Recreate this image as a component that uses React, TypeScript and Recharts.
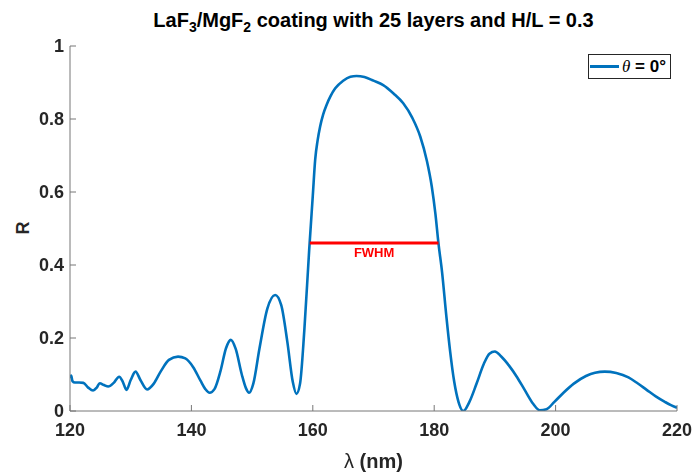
import React from "react";
import {
  LineChart,
  Line,
  XAxis,
  YAxis,
  ReferenceLine,
  Legend,
} from "recharts";

// wavelength samples (nm) and reflectance
const lambda = [
  120.0, 120.2, 120.4, 120.8, 121.5, 122.2, 123.0, 123.8, 124.4, 124.9,
  125.6, 126.3, 127.2, 128.1, 128.7, 129.3, 130.0, 130.8, 131.6, 132.7,
  133.8, 135.0, 136.3, 137.8, 139.0, 140.3, 141.5, 142.3, 143.0, 143.8,
  144.8, 145.7, 146.5, 147.3, 148.3, 149.0, 149.5, 150.2, 151.2, 152.5,
  153.8, 154.8, 155.8, 156.7, 157.3, 157.9, 158.6, 159.4, 160.0, 160.4,
  160.8, 161.2, 161.7, 162.3, 162.9, 163.7, 165.0, 166.2, 167.2, 168.5,
  170.0, 171.6, 173.3, 174.9, 176.4, 177.7, 178.8, 179.6, 180.2, 180.7,
  181.3, 182.0, 182.6, 183.3, 184.0, 184.8, 185.8, 187.0, 188.2, 189.1,
  190.0, 191.0, 192.3, 193.6, 195.0, 196.3, 197.4, 198.5, 199.8, 201.3,
  203.0, 205.0, 206.5, 208.1, 210.0, 212.0, 213.5, 215.0, 216.5, 218.0,
  219.0, 220.0,
];

const reflectance = [
  0.090, 0.097, 0.082, 0.078, 0.078, 0.077, 0.064, 0.056, 0.064, 0.076,
  0.071, 0.067, 0.077, 0.094, 0.080, 0.058, 0.085, 0.108, 0.085, 0.059,
  0.075, 0.110, 0.140, 0.149, 0.144, 0.120, 0.083, 0.060, 0.050, 0.060,
  0.110, 0.172, 0.195, 0.170, 0.100, 0.062, 0.050, 0.075, 0.170, 0.280,
  0.318, 0.290, 0.190, 0.080, 0.047, 0.075, 0.220, 0.440, 0.590, 0.690,
  0.742, 0.779, 0.812, 0.840, 0.862, 0.884, 0.905, 0.916, 0.918, 0.915,
  0.905, 0.893, 0.870, 0.843, 0.803, 0.752, 0.685, 0.615, 0.540, 0.460,
  0.380, 0.260, 0.167, 0.080, 0.025, 0.000, 0.025, 0.076, 0.130, 0.157,
  0.163, 0.150, 0.125, 0.094, 0.055, 0.020, 0.002, 0.005, 0.025, 0.050,
  0.075, 0.096, 0.105, 0.108, 0.104, 0.092, 0.076, 0.058, 0.040, 0.025,
  0.016, 0.009,
];

const xTicks = [120, 140, 160, 180, 200, 220];
const yTicks = [0, 0.2, 0.4, 0.6, 0.8, 1];

// FWHM marker
const fwhmLeft = 159.5;
const fwhmRight = 180.7;
const fwhmLevel = 0.46;

const data = lambda.map((l, i) => ({ lambda: l, R: reflectance[i] }));

const FONT = "'Liberation Sans', Arial, Helvetica, sans-serif";
const BLUE = "#0072BD";
const AXIS = "#777777";
const TEXT = "#262626";

const tickStyle = { fontSize: 18, fontWeight: "bold", fill: TEXT, fontFamily: FONT };

const LegendBox = ({ payload }: any) => (
  <div
    style={{
      border: `1px solid ${TEXT}`,
      background: "#fff",
      width: 83,
      height: 25,
      boxSizing: "border-box",
      display: "flex",
      alignItems: "center",
      fontFamily: FONT,
    }}
  >
    {(payload || []).map((p: any) => (
      <React.Fragment key={p.value}>
        <span
          style={{
            display: "inline-block",
            width: 29,
            height: 3,
            background: p.color,
            marginLeft: 1,
            marginRight: 3,
          }}
        />
        <span style={{ fontSize: 17, fontWeight: "bold", color: "#000", whiteSpace: "nowrap" }}>
          <i style={{ fontFamily: "'Liberation Serif', serif", fontWeight: "normal" }}>θ</i> = 0°
        </span>
      </React.Fragment>
    ))}
  </div>
);

export default function App() {
  return (
    <div
      style={{
        position: "fixed",
        left: 0,
        top: 0,
        width: 693,
        height: 474,
        background: "#fff",
        fontFamily: FONT,
      }}
    >
      <div
        style={{
          position: "absolute",
          left: 0,
          width: 747,
          top: 8,
          textAlign: "center",
          fontSize: 20,
          fontWeight: "bold",
          color: "#000",
          lineHeight: "24px",
        }}
      >
        LaF<sub style={{ fontSize: 14 }}>3</sub>/MgF<sub style={{ fontSize: 14 }}>2</sub> coating with 25 layers and H/L = 0.3
      </div>
      <div
        style={{
          position: "absolute",
          left: 13,
          top: 217,
          width: 20,
          height: 22,
          textAlign: "center",
          fontSize: 18,
          fontWeight: "bold",
          color: TEXT,
          transform: "rotate(-90deg)",
          lineHeight: "22px",
        }}
      >
        R
      </div>
      <div
        style={{
          position: "absolute",
          left: 0,
          width: 747,
          top: 449,
          textAlign: "center",
          fontSize: 20,
          fontWeight: "bold",
          color: TEXT,
          lineHeight: "24px",
        }}
      >
        <span style={{ fontWeight: "normal" }}>λ</span> (nm)
      </div>
      <LineChart
        width={693}
        height={474}
        data={data}
        margin={{ top: 46, right: 16, bottom: 33, left: 10 }}
        style={{ position: "absolute", left: 0, top: 0 }}
      >
        <XAxis
          dataKey="lambda"
          type="number"
          domain={[120, 220]}
          ticks={xTicks}
          allowDataOverflow
          height={30}
          tickSize={-6}
          tickMargin={18}
          tick={tickStyle}
          stroke={AXIS}
          tickLine={{ stroke: AXIS }}
          axisLine={{ stroke: AXIS }}
        />
        <XAxis
          xAxisId="top"
          orientation="top"
          dataKey="lambda"
          type="number"
          domain={[120, 220]}
          ticks={xTicks}
          allowDataOverflow
          height={0}
          tickSize={-6}
          tick={false}
          stroke={AXIS}
        />
        <YAxis
          type="number"
          domain={[0, 1]}
          ticks={yTicks}
          allowDataOverflow
          width={60}
          tickSize={-6}
          tickMargin={12}
          tick={tickStyle}
          tickFormatter={(v: number) => String(v)}
          stroke={AXIS}
        />
        <YAxis
          yAxisId="right"
          orientation="right"
          type="number"
          domain={[0, 1]}
          ticks={yTicks}
          allowDataOverflow
          width={0}
          tickSize={-6}
          tick={false}
          stroke={AXIS}
        />
        <Line
          dataKey="R"
          name="theta"
          type="monotone"
          stroke={BLUE}
          strokeWidth={2.6}
          dot={false}
          isAnimationActive={false}
        />
        <ReferenceLine
          segment={[
            { x: fwhmLeft, y: fwhmLevel },
            { x: fwhmRight, y: fwhmLevel },
          ]}
          stroke="#FF0000"
          strokeWidth={3}
          ifOverflow="visible"
          label={{
            value: "FWHM",
            position: "bottom",
            offset: 5,
            fill: "#FF0000",
            fontSize: 13,
            fontWeight: "bold",
            fontFamily: FONT,
          }}
        />
        <Legend
          layout="vertical"
          align="center"
          verticalAlign="middle"
          content={LegendBox}
          wrapperStyle={{ left: 588, top: 54, width: 83, height: 25 }}
        />
      </LineChart>
    </div>
  );
}
